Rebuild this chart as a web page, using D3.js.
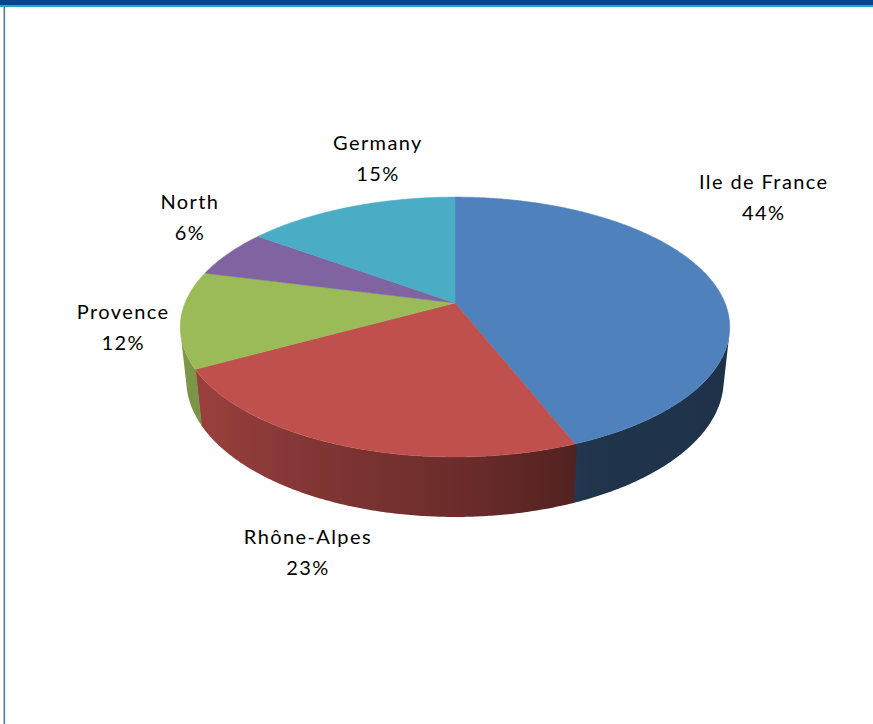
<!DOCTYPE html>
<html>
<head>
<meta charset="utf-8">
<script src="https://cdn.jsdelivr.net/npm/d3@7"></script>
<style>
  html, body { margin: 0; padding: 0; background: #fff; }
  svg { display: block; }
  .label { font-family: Lato, "Open Sans", sans-serif; font-size: 20px; letter-spacing: 1.4px; fill: #000; }
</style>
</head>
<body>
<svg id="chart" width="873" height="724"></svg>
<script>
// data
const categories = ['Ile de France', 'Rhône-Alpes', 'Provence', 'North', 'Germany'];
const shares     = [44, 23, 12, 6, 15];
const colors     = ['#4F81BD', '#C0504D', '#9BBB59', '#8064A2', '#4BACC6'];

// label nudges from the projected anchor, in px (layout only)
const labelShift = [[-9, -86], [-1, 52], [13, -4], [13, -33], [50, -37]];

const width  = 873;
const height = 724;

// 3d view
const cx     = 455;
const cy     = 303;
const tilt   = 27.7 * Math.PI / 180;
const dist   = 4.79;
const focal  = 270 * dist;
const depth  = 0.224;
const sinT   = Math.sin(tilt);
const cosT   = Math.cos(tilt);

// theta clockwise from 12 o'clock (far side), r radius, h height (0 = top)
function project(theta, r, h) {
  const x = Math.sin(theta) * r;
  const z = -Math.cos(theta) * r;
  const v = z * sinT - h * cosT;
  const w = dist - z * cosT - h * sinT;
  return [cx + focal * x / w, cy + focal * v / w];
}

const svg  = d3.select('#chart');
const defs = svg.append('defs');

// frame
svg.append('rect').attr('x', 0).attr('y', 0).attr('width', width).attr('height', 5).attr('fill', '#03478b');
svg.append('rect').attr('x', 0).attr('y', 5).attr('width', width).attr('height', 2).attr('fill', '#2aa5b6');
svg.append('rect').attr('x', 3.5).attr('y', 7).attr('width', 1.6).attr('height', height - 7).attr('fill', '#4f7cab');

const pie = d3.pie().sort(null).startAngle(0).endAngle(2 * Math.PI)(shares);

const deg = Math.PI / 180;
// wall is visible where the outward normal faces the camera
const limit    = Math.acos(-1 / (dist * cosT));
const wallFrom = limit;
const wallTo   = 2 * Math.PI - limit;

const shade = d3.scaleLinear()
  .domain([90, 155, 160, 180, 230, 270])
  .range([0.38, 0.40, 0.44, 0.56, 0.78, 0.84])
  .clamp(true);

const line = d3.line();

function arcPoints(a0, a1, h) {
  const n = Math.max(2, Math.ceil((a1 - a0) / (0.5 * deg)));
  return d3.range(n + 1).map(j => project(a0 + (a1 - a0) * j / n, 1, h));
}

// side walls (each one overlaps the previous a little so no seam shows)
const walls = svg.append('g').attr('class', 'walls');
pie.forEach((slice, i) => {
  const a0 = Math.max(slice.startAngle - 0.4 * deg, wallFrom);
  const a1 = Math.min(slice.endAngle, wallTo);
  if (a1 <= a0) {
    return;
  }
  const x0 = project(a0, 1, 0)[0];
  const x1 = project(a1, 1, 0)[0];
  const grad = defs.append('linearGradient')
    .attr('id', 'wall' + i)
    .attr('gradientUnits', 'userSpaceOnUse')
    .attr('x1', x0).attr('y1', 0)
    .attr('x2', x1).attr('y2', 0);
  const base = d3.rgb(colors[i]);
  d3.range(21).forEach(j => {
    const a = a0 + (a1 - a0) * j / 20;
    const k = shade(a / deg);
    const off = (project(a, 1, 0)[0] - x0) / (x1 - x0);
    grad.append('stop')
      .attr('offset', Math.max(0, Math.min(1, off)))
      .attr('stop-color', d3.rgb(base.r * k, base.g * k, base.b * k).formatHex());
  });
  const pts = arcPoints(a0, a1, 0).concat(arcPoints(a0, a1, -depth).reverse());
  walls.append('path')
    .attr('d', line(pts) + 'Z')
    .attr('fill', 'url(#wall' + i + ')');
});

// top faces
const tops = svg.append('g').attr('class', 'tops');
pie.forEach((slice, i) => {
  const pts = [project(0, 0, 0)].concat(arcPoints(slice.startAngle, slice.endAngle, 0));
  tops.append('path')
    .attr('d', line(pts) + 'Z')
    .attr('fill', colors[i])
    .attr('stroke', colors[i])
    .attr('stroke-width', 0.5)
    .attr('stroke-linejoin', 'round');
});

// labels
const labels = svg.append('g').attr('class', 'labels');
pie.forEach((slice, i) => {
  const mid = (slice.startAngle + slice.endAngle) / 2;
  const p = project(mid, 1.25, 0);
  const x = p[0] + labelShift[i][0];
  const y = p[1] + labelShift[i][1];
  const t = labels.append('text')
    .attr('class', 'label')
    .attr('text-anchor', 'middle')
    .attr('x', x)
    .attr('y', y);
  t.append('tspan').attr('x', x).attr('dy', 0).text(categories[i]);
  t.append('tspan').attr('x', x).attr('dy', 31).text(shares[i] + '%');
});
</script>
</body>
</html>
